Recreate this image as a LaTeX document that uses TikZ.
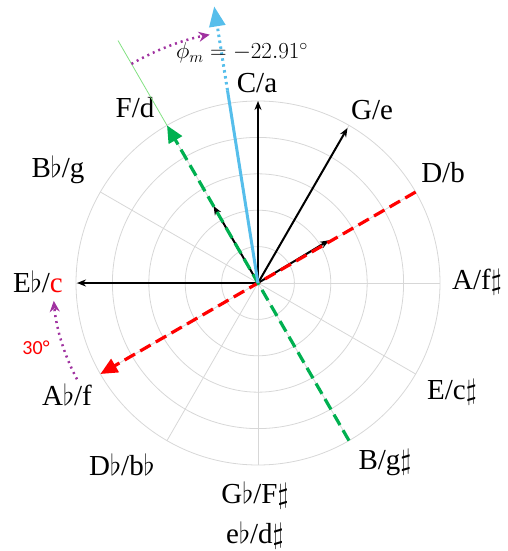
\RequirePackage{fix-cm}
\documentclass[tikz,border=0pt]{standalone}
\usepackage{fontspec}
\setmainfont{Liberation Serif}
\newfontfamily\calfont{Carlito}
\usetikzlibrary{arrows.meta}

\definecolor{ringgray}{RGB}{215,215,215}
\definecolor{vecblue}{RGB}{86,190,235}
\definecolor{vecgreen}{RGB}{0,176,80}
\definecolor{thingreen}{RGB}{130,225,130}
\definecolor{arcpurple}{RGB}{160,50,160}

\tikzset{
    lbl/.style={inner sep=0pt, font=\fontsize{29}{32}\selectfont},
    polargrid/.style={ringgray, line width=0.8pt},
    vec/.style={line width=2pt, -{Stealth[length=9pt,width=7pt]}},
    dashvec/.style={line width=3.2pt, dash pattern=on 12pt off 6pt,
        -{Triangle[length=17pt,width=15pt]}},
    dotarc/.style={arcpurple, line width=2.5pt, dash pattern=on 2pt off 4pt,
        -{Stealth[length=11pt,width=10pt]}},
}

\begin{document}
\begin{tikzpicture}[x=1pt,y=1pt]
    \useasboundingbox (-258,-268) rectangle (249,283);

    % Polar grid
    \foreach \r in {36.4,72.8,109.2,145.6,182}
        \draw[polargrid] (0,0) circle (\r);
    \foreach \a in {0,30,...,330}
        \draw[polargrid] (0,0) -- (\a:182);

    % Key labels
    \node[lbl] (Ca) at (-1,200) {C/a};
    \node[lbl] (Ge) at (114,173) {G/e};
    \node[lbl] (Db) at (185,110) {D/b};
    \node[lbl] (Af) at (219,1) {A/f$\sharp$};
    \node[lbl] (Ec) at (194,-109) {E/c$\sharp$};
    \node[lbl] (Bg) at (127,-180) {B/g$\sharp$};
    \node[lbl] (Gb) at (-3,-212) {G$\flat$/F$\sharp$};
    \node[lbl] (eb) at (-3,-252) {e$\flat$/d$\sharp$};
    \node[lbl] (Dbb) at (-136,-182) {D$\flat$/b$\flat$};
    \node[lbl] (Abf) at (-191,-112) {A$\flat$/f};
    \node[lbl] (Ebc) at (-220,1) {E$\flat$/\textcolor{red}{c}};
    \node[lbl] (Bbg) at (-200,113) {B$\flat$/g};
    \node[lbl] (Fd) at (-123,175) {F/d};

    % Vectors
    \coordinate (o) at (0,0);
    \coordinate (tC) at (90:182);
    \coordinate (tG) at (60:179);
    \coordinate (tEb) at (180:181);
    \coordinate (tF) at (120:89);
    \coordinate (tD) at (31:83);
    \draw[vec] (o) -- (tC);
    \draw[vec] (o) -- (tG);
    \draw[vec] (o) -- (tEb);
    \draw[vec] (o) -- (tF);
    \draw[vec] (o) -- (tD);

    % Axes of symmetry
    \coordinate (rD) at (30:182);
    \coordinate (rAb) at (210:182);
    \coordinate (gB) at (300:182);
    \coordinate (gF) at (120:182);
    \coordinate (gOut) at (120:280);
    \draw[dashvec, red] (rD) -- (rAb);
    \draw[dashvec, vecgreen] (gB) -- (gF);
    \draw[thingreen, line width=0.8pt] (gF) -- (gOut);

    % Mean direction
    \coordinate (bMid) at (99:195);
    \coordinate (bTip) at (99:280);
    \draw[vecblue, line width=3pt] (o) -- (bMid);
    \draw[vecblue, line width=3pt, dash pattern=on 2.5pt off 3.5pt,
        -{Triangle[length=20pt,width=16pt]}] (bMid) -- (bTip);

    % Angle arcs
    \coordinate (arcA) at (120:253);
    \coordinate (arcB) at (208:205);
    \draw[dotarc] (arcA) arc[start angle=120, end angle=101, radius=253];
    \draw[dotarc] (arcB) arc[start angle=208, end angle=185, radius=205];
    \node[inner sep=0pt, font=\fontsize{23}{25}\selectfont] (phi) at (-16,230)
        {$\phi_m = -22.91^\circ$};
    \node[inner sep=0pt, red, font=\calfont\fontsize{20}{22}\selectfont] (deg) at (-222,-65)
        {30°};
\end{tikzpicture}
\end{document}
